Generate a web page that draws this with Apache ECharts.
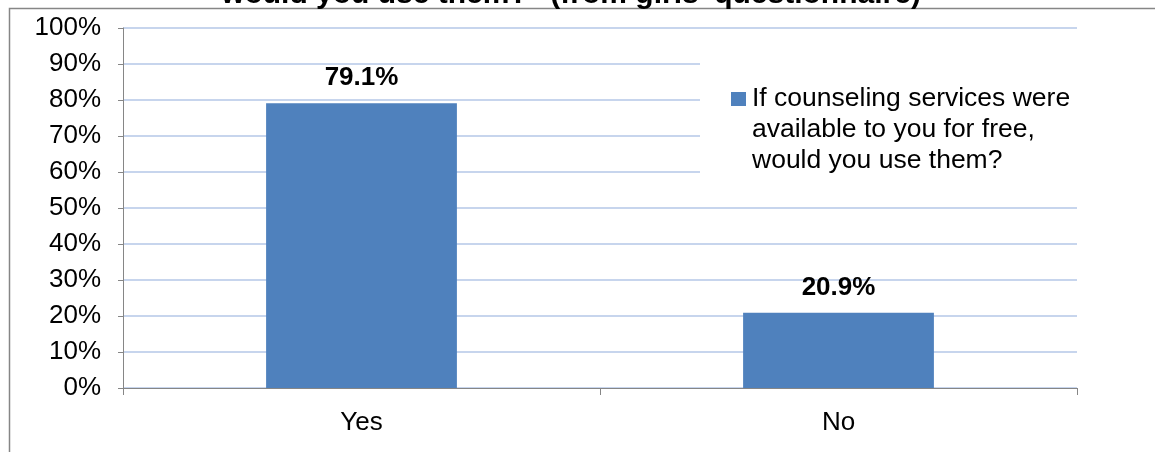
<!DOCTYPE html>
<html>
<head>
<meta charset="utf-8">
<style>
  html, body { margin: 0; padding: 0; background: #ffffff; }
  #chart { width: 1155px; height: 452px; }
</style>
<script src="https://cdn.jsdelivr.net/npm/echarts@6/dist/echarts.min.js"></script>
</head>
<body>
<div id="chart"></div>
<script>
// Survey answers (share of respondents, %)
const categories = ['Yes', 'No'];
const shares = [79.1, 20.9];
const seriesName = 'If counseling services were\navailable to you for free,\nwould you use them?';
const titleText = 'would you use them?" (from girls\' questionnaire)';
const yTicks = { min: 0, max: 100, interval: 10 };

const FONT = '"Liberation Sans", Arial, sans-serif';
const BAR = '#4f81bd';
const AXIS = '#868686';

const chart = echarts.init(document.getElementById('chart'), null, { renderer: 'canvas' });

chart.setOption({
  animation: false,
  backgroundColor: '#ffffff',
  textStyle: { fontFamily: FONT },
  grid: { left: 123, right: 78, top: 28, bottom: 64, containLabel: false },
  xAxis: {
    type: 'category',
    data: categories,
    axisLine: { show: true, lineStyle: { color: AXIS, width: 1 } },
    axisTick: { show: true, alignWithLabel: false, length: 7, lineStyle: { color: AXIS } },
    axisLabel: { color: '#000000', fontSize: 26, fontFamily: FONT, margin: 22 },
    splitLine: { show: false }
  },
  yAxis: {
    type: 'value',
    min: yTicks.min,
    max: yTicks.max,
    interval: yTicks.interval,
    axisLine: { show: true, lineStyle: { color: AXIS, width: 1 } },
    axisTick: { show: true, length: 5, lineStyle: { color: AXIS } },
    axisLabel: { color: '#000000', fontSize: 26, fontFamily: FONT, margin: 22, formatter: '{value}%' },
    splitLine: { show: true, lineStyle: { color: '#b4c7e7', width: 1.5 } }
  },
  series: [{
    type: 'bar',
    name: seriesName,
    data: shares,
    barWidth: '40%',
    itemStyle: { color: BAR },
    label: {
      show: true,
      position: 'top',
      distance: 12,
      color: '#000000',
      fontSize: 26,
      fontWeight: 'bold',
      fontFamily: FONT,
      formatter: p => p.value.toFixed(1) + '%'
    }
  }],
  graphic: [
    // chart frame (top and left edges)
    {
      type: 'polyline',
      shape: { points: [[9.5, 452], [9.5, 8.5], [1155, 8.5]] },
      style: { stroke: AXIS, lineWidth: 1.5, fill: null },
      silent: true
    },
    // title line
    {
      type: 'text',
      x: 571,
      y: -5,
      style: {
        text: titleText,
        fill: '#000000',
        font: 'bold 30px ' + FONT,
        textAlign: 'center',
        textVerticalAlign: 'middle'
      },
      silent: true
    },
    // legend box (white, sits over the grid lines)
    {
      type: 'rect',
      z: 50,
      shape: { x: 700, y: 45, width: 385, height: 150 },
      style: { fill: '#ffffff' },
      silent: true
    },
    {
      type: 'rect',
      z: 51,
      shape: { x: 731, y: 92, width: 15, height: 14 },
      style: { fill: BAR },
      silent: true
    },
    {
      type: 'text',
      z: 51,
      x: 752,
      y: 83,
      style: {
        text: seriesName,
        fill: '#000000',
        font: '26.5px ' + FONT,
        lineHeight: 31,
        textAlign: 'left',
        textVerticalAlign: 'top'
      },
      silent: true
    }
  ]
});
</script>
</body>
</html>
